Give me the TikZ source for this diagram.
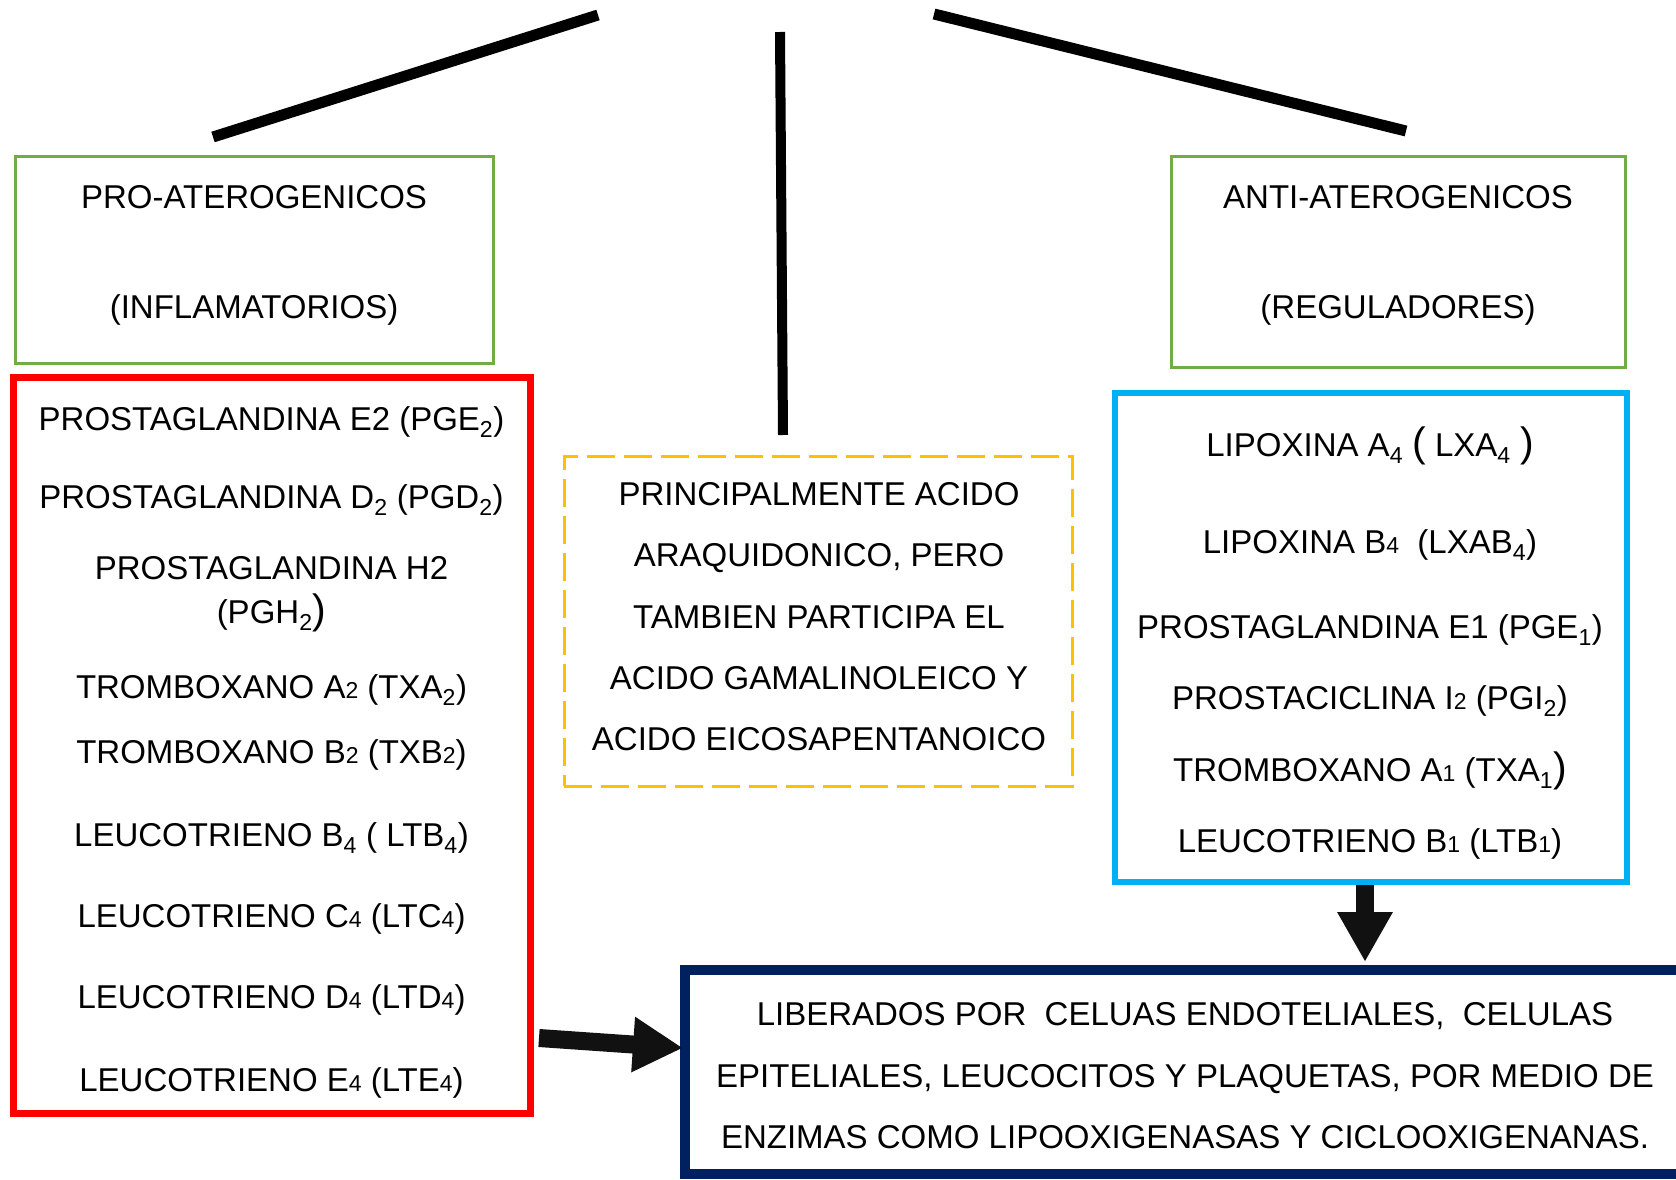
\documentclass[tikz,border=0pt]{standalone}
\usepackage{fontspec}
\setmainfont{Liberation Sans}
\usetikzlibrary{arrows.meta}
\definecolor{grn}{HTML}{70AD47}
\definecolor{redb}{HTML}{FF0000}
\definecolor{orb}{HTML}{FFC000}
\definecolor{blb}{HTML}{00B0F0}
\definecolor{nvb}{HTML}{002060}
\definecolor{arr}{HTML}{111111}
\newcommand\lo[1]{\textsubscript{#1}}
\newcommand\sm[1]{{\fontsize{23}{23}\selectfont #1}}
\newcommand\bp[1]{{\fontsize{41}{41}\selectfont #1}}
\tikzset{
  txt/.style={font=\fontsize{33}{38}\selectfont, anchor=base, inner sep=0pt},
  ntxt/.style={font=\fontsize{33}{38}\selectfont, anchor=base, inner sep=0pt},
  greenbox/.style={draw=grn, line width=3pt, inner sep=0pt},
  redbox/.style={draw=redb, line width=7pt, inner sep=0pt},
  bluebox/.style={draw=blb, line width=6pt, inner sep=0pt},
  orbox/.style={draw=orb, line width=3pt, dash pattern=on 28pt off 9pt, inner sep=0pt},
  navybox/.style={draw=nvb, line width=10pt, inner sep=0pt},
  bar/.style={draw=black, line width=11pt},
  bigarrow/.style={draw=arr, fill=arr, line width=18pt, -{Triangle[length=50pt,width=52pt]}},
}
\begin{document}
\begin{tikzpicture}[x=1pt,y=-1pt]
\useasboundingbox (0,0) rectangle (1676,1180);
% boxes
\node[greenbox, minimum width=478pt, minimum height=206pt] (lhead) at (254,260) {};
\node[greenbox, minimum width=454pt, minimum height=210pt] (rhead) at (1398,262) {};
\node[redbox, minimum width=517pt, minimum height=736pt] (red) at (271.5,745) {};
\node[bluebox, minimum width=512pt, minimum height=489pt] (blue) at (1371,637.5) {};
\node[orbox, minimum width=508pt, minimum height=330pt] (orange) at (818,621) {};
\node[navybox, minimum width=1015pt, minimum height=204pt] (navy) at (1192.5,1072) {};
% header texts
\node[txt] (lh1) at (254,208) {PRO-ATEROGENICOS};
\node[txt] (lh2) at (254,318) {(INFLAMATORIOS)};
\node[txt] (rh1) at (1398,208) {ANTI-ATEROGENICOS};
\node[txt] (rh2) at (1398,318) {(REGULADORES)};
% red box items
\node[txt] (r1) at (271.5,430) {PROSTAGLANDINA E2 (PGE\lo{2})};
\node[txt] (r2) at (271.5,508) {PROSTAGLANDINA D\lo{2} (PGD\lo{2})};
\node[txt] (r3) at (271.5,579) {PROSTAGLANDINA H2};
\node[txt] (r3b) at (271.5,623) {(PGH\lo{2}\bp{)}};
\node[txt] (r4) at (271.5,698) {TROMBOXANO A\sm{2} (TXA\lo{2})};
\node[txt] (r5) at (271.5,763) {TROMBOXANO B\sm{2} (TXB\sm{2})};
\node[txt] (r6) at (271.5,846) {LEUCOTRIENO B\lo{4} ( LTB\lo{4})};
\node[txt] (r7) at (271.5,927) {LEUCOTRIENO C\sm{4} (LTC\sm{4})};
\node[txt] (r8) at (271.5,1008) {LEUCOTRIENO D\sm{4} (LTD\sm{4})};
\node[txt] (r9) at (271.5,1091) {LEUCOTRIENO E\sm{4} (LTE\sm{4})};
% blue box items
\node[txt] (b1) at (1370,456) {LIPOXINA A\lo{4} \bp{(} LXA\lo{4} \bp{)}};
\node[txt] (b2) at (1370,553) {LIPOXINA B\sm{4}\ \ (LXAB\lo{4})};
\node[txt] (b3) at (1370,638) {PROSTAGLANDINA E1 (PGE\lo{1})};
\node[txt] (b4) at (1370,709) {PROSTACICLINA I\sm{2} (PGI\lo{2})};
\node[txt] (b5) at (1370,781) {TROMBOXANO A\sm{1} (TXA\lo{1}\bp{)}};
\node[txt] (b6) at (1370,852) {LEUCOTRIENO B\sm{1} (LTB\sm{1})};
% orange texts
\node[txt] (o1) at (819,505) {PRINCIPALMENTE ACIDO};
\node[txt] (o2) at (819,566) {ARAQUIDONICO, PERO};
\node[txt] (o3) at (819,628) {TAMBIEN PARTICIPA EL};
\node[txt] (o4) at (819,689) {ACIDO GAMALINOLEICO Y};
\node[txt] (o5) at (819,750) {ACIDO EICOSAPENTANOICO};
% navy texts
\node[ntxt] (n1) at (1185,1025) {LIBERADOS POR\ \ CELUAS ENDOTELIALES,\ \ CELULAS};
\node[ntxt] (n2) at (1185,1087) {EPITELIALES, LEUCOCITOS Y PLAQUETAS, POR MEDIO DE};
\node[ntxt] (n3) at (1185,1148) {ENZIMAS COMO LIPOOXIGENASAS Y CICLOOXIGENANAS.};
% top lines
\coordinate (l1a) at (598,15);
\coordinate (l1b) at (213,137);
\coordinate (l2a) at (780,32);
\coordinate (l2b) at (783,435);
\coordinate (l3a) at (934,14);
\coordinate (l3b) at (1406,131);
\draw[bar] (l1a) -- (l1b);
\draw[bar, line width=10pt] (l2a) -- (l2b);
\draw[bar] (l3a) -- (l3b);
% arrows
\coordinate (a1s) at (539,1038);
\coordinate (a1e) at (683,1048);
\coordinate (a2s) at (1365,885);
\coordinate (a2e) at (1365,962);
\draw[bigarrow] (a1s) -- (a1e);
\draw[bigarrow] (a2s) -- (a2e);
\end{tikzpicture}
\end{document}
